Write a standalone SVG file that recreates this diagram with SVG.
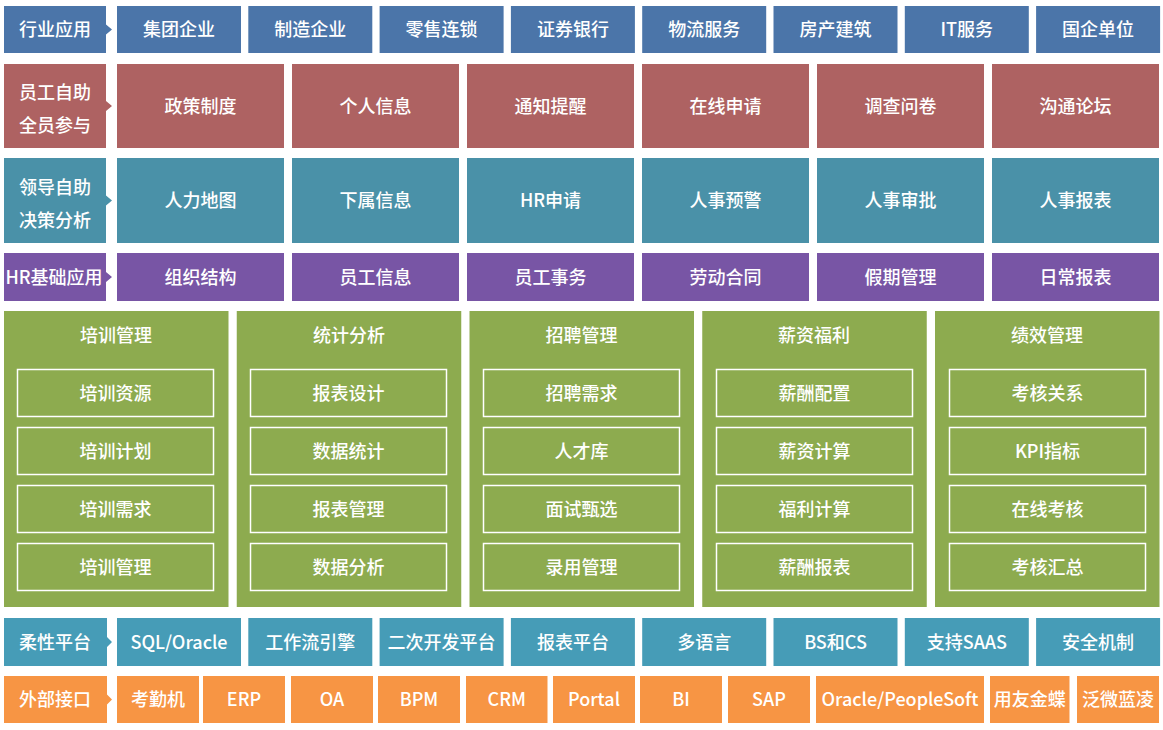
<svg xmlns="http://www.w3.org/2000/svg" width="1163" height="730" viewBox="0 0 1163 730">
<style>
text{font-family:"Noto Sans CJK SC","Noto Sans",sans-serif;font-size:18px;font-weight:500;fill:#fff;text-anchor:middle}
.c1{fill:#4B75A9}.c2{fill:#AE6262}.c3{fill:#4A91A8}.c4{fill:#7855A5}.c5{fill:#8DAB4F}.c6{fill:#469CB7}.c7{fill:#F79544}
.inner{fill:none;stroke:#fff;stroke-width:1.5}
</style>
<rect width="1163" height="730" fill="#fff"/>

<!-- Row 1 -->
<g id="row1">
<g id="lbl-industry"><path class="c1" d="M4,6H106V24.5L112,29.5L106,34.5V53H4Z"/><text x="55" y="36">行业应用</text></g>
<g id="r1-1"><rect class="c1" x="117" y="6" width="124" height="47"/><text x="179" y="36">集团企业</text></g>
<g id="r1-2"><rect class="c1" x="248.3" y="6" width="124" height="47"/><text x="310.3" y="36">制造企业</text></g>
<g id="r1-3"><rect class="c1" x="379.6" y="6" width="124" height="47"/><text x="441.6" y="36">零售连锁</text></g>
<g id="r1-4"><rect class="c1" x="510.9" y="6" width="124" height="47"/><text x="572.9" y="36">证券银行</text></g>
<g id="r1-5"><rect class="c1" x="642.2" y="6" width="124" height="47"/><text x="704.2" y="36">物流服务</text></g>
<g id="r1-6"><rect class="c1" x="773.5" y="6" width="124" height="47"/><text x="835.5" y="36">房产建筑</text></g>
<g id="r1-7"><rect class="c1" x="904.8" y="6" width="124" height="47"/><text x="966.8" y="36">IT服务</text></g>
<g id="r1-8"><rect class="c1" x="1036.1" y="6" width="124" height="47"/><text x="1098.1" y="36">国企单位</text></g>
</g>

<!-- Row 2 -->
<g id="row2">
<g id="lbl-staff"><path class="c2" d="M4,64H106V101L112,106L106,111V148H4Z"/><text x="55" y="98.5">员工自助</text><text x="55" y="131.5">全员参与</text></g>
<g id="r2-1"><rect class="c2" x="117" y="64" width="167" height="84"/><text x="200.5" y="112.5">政策制度</text></g>
<g id="r2-2"><rect class="c2" x="292" y="64" width="167" height="84"/><text x="375.5" y="112.5">个人信息</text></g>
<g id="r2-3"><rect class="c2" x="467" y="64" width="167" height="84"/><text x="550.5" y="112.5">通知提醒</text></g>
<g id="r2-4"><rect class="c2" x="642" y="64" width="167" height="84"/><text x="725.5" y="112.5">在线申请</text></g>
<g id="r2-5"><rect class="c2" x="817" y="64" width="167" height="84"/><text x="900.5" y="112.5">调查问卷</text></g>
<g id="r2-6"><rect class="c2" x="992" y="64" width="167" height="84"/><text x="1075.5" y="112.5">沟通论坛</text></g>
</g>

<!-- Row 3 -->
<g id="row3">
<g id="lbl-leader"><path class="c3" d="M4,158H106V195.5L112,200.5L106,205.5V243H4Z"/><text x="55" y="193.5">领导自助</text><text x="55" y="226.5">决策分析</text></g>
<g id="r3-1"><rect class="c3" x="117" y="158" width="167" height="85"/><text x="200.5" y="207">人力地图</text></g>
<g id="r3-2"><rect class="c3" x="292" y="158" width="167" height="85"/><text x="375.5" y="207">下属信息</text></g>
<g id="r3-3"><rect class="c3" x="467" y="158" width="167" height="85"/><text x="550.5" y="207">HR申请</text></g>
<g id="r3-4"><rect class="c3" x="642" y="158" width="167" height="85"/><text x="725.5" y="207">人事预警</text></g>
<g id="r3-5"><rect class="c3" x="817" y="158" width="167" height="85"/><text x="900.5" y="207">人事审批</text></g>
<g id="r3-6"><rect class="c3" x="992" y="158" width="167" height="85"/><text x="1075.5" y="207">人事报表</text></g>
</g>

<!-- Row 4 -->
<g id="row4">
<g id="lbl-hr"><path class="c4" d="M4,253H106V272L112,277L106,282V301H4Z"/><text x="54" y="283.5">HR基础应用</text></g>
<g id="r4-1"><rect class="c4" x="117" y="253" width="167" height="48"/><text x="200.5" y="283.5">组织结构</text></g>
<g id="r4-2"><rect class="c4" x="292" y="253" width="167" height="48"/><text x="375.5" y="283.5">员工信息</text></g>
<g id="r4-3"><rect class="c4" x="467" y="253" width="167" height="48"/><text x="550.5" y="283.5">员工事务</text></g>
<g id="r4-4"><rect class="c4" x="642" y="253" width="167" height="48"/><text x="725.5" y="283.5">劳动合同</text></g>
<g id="r4-5"><rect class="c4" x="817" y="253" width="167" height="48"/><text x="900.5" y="283.5">假期管理</text></g>
<g id="r4-6"><rect class="c4" x="992" y="253" width="167" height="48"/><text x="1075.5" y="283.5">日常报表</text></g>
</g>

<!-- Green modules -->
<g id="modules">
<g id="m-training">
<rect class="c5" x="4" y="311" width="224.5" height="296"/>
<text x="116" y="341.5">培训管理</text>
<rect class="inner" x="17.5" y="369.5" width="196" height="47"/><text x="115.5" y="399.5">培训资源</text>
<rect class="inner" x="17.5" y="427.5" width="196" height="47"/><text x="115.5" y="457.5">培训计划</text>
<rect class="inner" x="17.5" y="485.5" width="196" height="47"/><text x="115.5" y="515.5">培训需求</text>
<rect class="inner" x="17.5" y="543.5" width="196" height="47"/><text x="115.5" y="573.5">培训管理</text>
</g>
<g id="m-stats">
<rect class="c5" x="236.75" y="311" width="224.5" height="296"/>
<text x="349" y="341.5">统计分析</text>
<rect class="inner" x="250.5" y="369.5" width="196" height="47"/><text x="348.5" y="399.5">报表设计</text>
<rect class="inner" x="250.5" y="427.5" width="196" height="47"/><text x="348.5" y="457.5">数据统计</text>
<rect class="inner" x="250.5" y="485.5" width="196" height="47"/><text x="348.5" y="515.5">报表管理</text>
<rect class="inner" x="250.5" y="543.5" width="196" height="47"/><text x="348.5" y="573.5">数据分析</text>
</g>
<g id="m-recruit">
<rect class="c5" x="469.5" y="311" width="224.5" height="296"/>
<text x="581.5" y="341.5">招聘管理</text>
<rect class="inner" x="483.5" y="369.5" width="196" height="47"/><text x="581.5" y="399.5">招聘需求</text>
<rect class="inner" x="483.5" y="427.5" width="196" height="47"/><text x="581.5" y="457.5">人才库</text>
<rect class="inner" x="483.5" y="485.5" width="196" height="47"/><text x="581.5" y="515.5">面试甄选</text>
<rect class="inner" x="483.5" y="543.5" width="196" height="47"/><text x="581.5" y="573.5">录用管理</text>
</g>
<g id="m-salary">
<rect class="c5" x="702.25" y="311" width="224.5" height="296"/>
<text x="814" y="341.5">薪资福利</text>
<rect class="inner" x="716.5" y="369.5" width="196" height="47"/><text x="814.5" y="399.5">薪酬配置</text>
<rect class="inner" x="716.5" y="427.5" width="196" height="47"/><text x="814.5" y="457.5">薪资计算</text>
<rect class="inner" x="716.5" y="485.5" width="196" height="47"/><text x="814.5" y="515.5">福利计算</text>
<rect class="inner" x="716.5" y="543.5" width="196" height="47"/><text x="814.5" y="573.5">薪酬报表</text>
</g>
<g id="m-perf">
<rect class="c5" x="935" y="311" width="224.5" height="296"/>
<text x="1047" y="341.5">绩效管理</text>
<rect class="inner" x="949.5" y="369.5" width="196" height="47"/><text x="1047.5" y="399.5">考核关系</text>
<rect class="inner" x="949.5" y="427.5" width="196" height="47"/><text x="1047.5" y="457.5">KPI指标</text>
<rect class="inner" x="949.5" y="485.5" width="196" height="47"/><text x="1047.5" y="515.5">在线考核</text>
<rect class="inner" x="949.5" y="543.5" width="196" height="47"/><text x="1047.5" y="573.5">考核汇总</text>
</g>
</g>

<!-- Row 6 -->
<g id="row6">
<g id="lbl-flex"><path class="c6" d="M4,618H107V637L112,642L107,647V666H4Z"/><text x="55" y="648.5">柔性平台</text></g>
<g id="r6-1"><rect class="c6" x="117" y="618" width="124" height="48"/><text x="179" y="648.5">SQL/Oracle</text></g>
<g id="r6-2"><rect class="c6" x="248.3" y="618" width="124" height="48"/><text x="310.3" y="648.5">工作流引擎</text></g>
<g id="r6-3"><rect class="c6" x="379.6" y="618" width="124" height="48"/><text x="441.6" y="648.5">二次开发平台</text></g>
<g id="r6-4"><rect class="c6" x="510.9" y="618" width="124" height="48"/><text x="572.9" y="648.5">报表平台</text></g>
<g id="r6-5"><rect class="c6" x="642.2" y="618" width="124" height="48"/><text x="704.2" y="648.5">多语言</text></g>
<g id="r6-6"><rect class="c6" x="773.5" y="618" width="124" height="48"/><text x="835.5" y="648.5">BS和CS</text></g>
<g id="r6-7"><rect class="c6" x="904.8" y="618" width="124" height="48"/><text x="966.8" y="648.5">支持SAAS</text></g>
<g id="r6-8"><rect class="c6" x="1036.1" y="618" width="124" height="48"/><text x="1098.1" y="648.5">安全机制</text></g>
</g>

<!-- Row 7 -->
<g id="row7">
<g id="lbl-ext"><path class="c7" d="M4,676H107V694.5L112,699.5L107,704.5V723H4Z"/><text x="55" y="706">外部接口</text></g>
<g id="r7-1"><rect class="c7" x="117" y="676" width="82" height="47"/><text x="158" y="706">考勤机</text></g>
<g id="r7-2"><rect class="c7" x="203" y="676" width="82" height="47"/><text x="244" y="706">ERP</text></g>
<g id="r7-3"><rect class="c7" x="291" y="676" width="82" height="47"/><text x="332" y="706">OA</text></g>
<g id="r7-4"><rect class="c7" x="378" y="676" width="82" height="47"/><text x="419" y="706">BPM</text></g>
<g id="r7-5"><rect class="c7" x="466" y="676" width="81.5" height="47"/><text x="506.7" y="706">CRM</text></g>
<g id="r7-6"><rect class="c7" x="553" y="676" width="82" height="47"/><text x="594" y="706">Portal</text></g>
<g id="r7-7"><rect class="c7" x="640" y="676" width="82" height="47"/><text x="681" y="706">BI</text></g>
<g id="r7-8"><rect class="c7" x="728" y="676" width="82" height="47"/><text x="769" y="706">SAP</text></g>
<g id="r7-9"><rect class="c7" x="816" y="676" width="168" height="47"/><text x="900" y="706">Oracle/PeopleSoft</text></g>
<g id="r7-10"><rect class="c7" x="990" y="676" width="79.5" height="47"/><text x="1029.7" y="706">用友金蝶</text></g>
<g id="r7-11"><rect class="c7" x="1077" y="676" width="82" height="47"/><text x="1118" y="706">泛微蓝凌</text></g>
</g>
</svg>
